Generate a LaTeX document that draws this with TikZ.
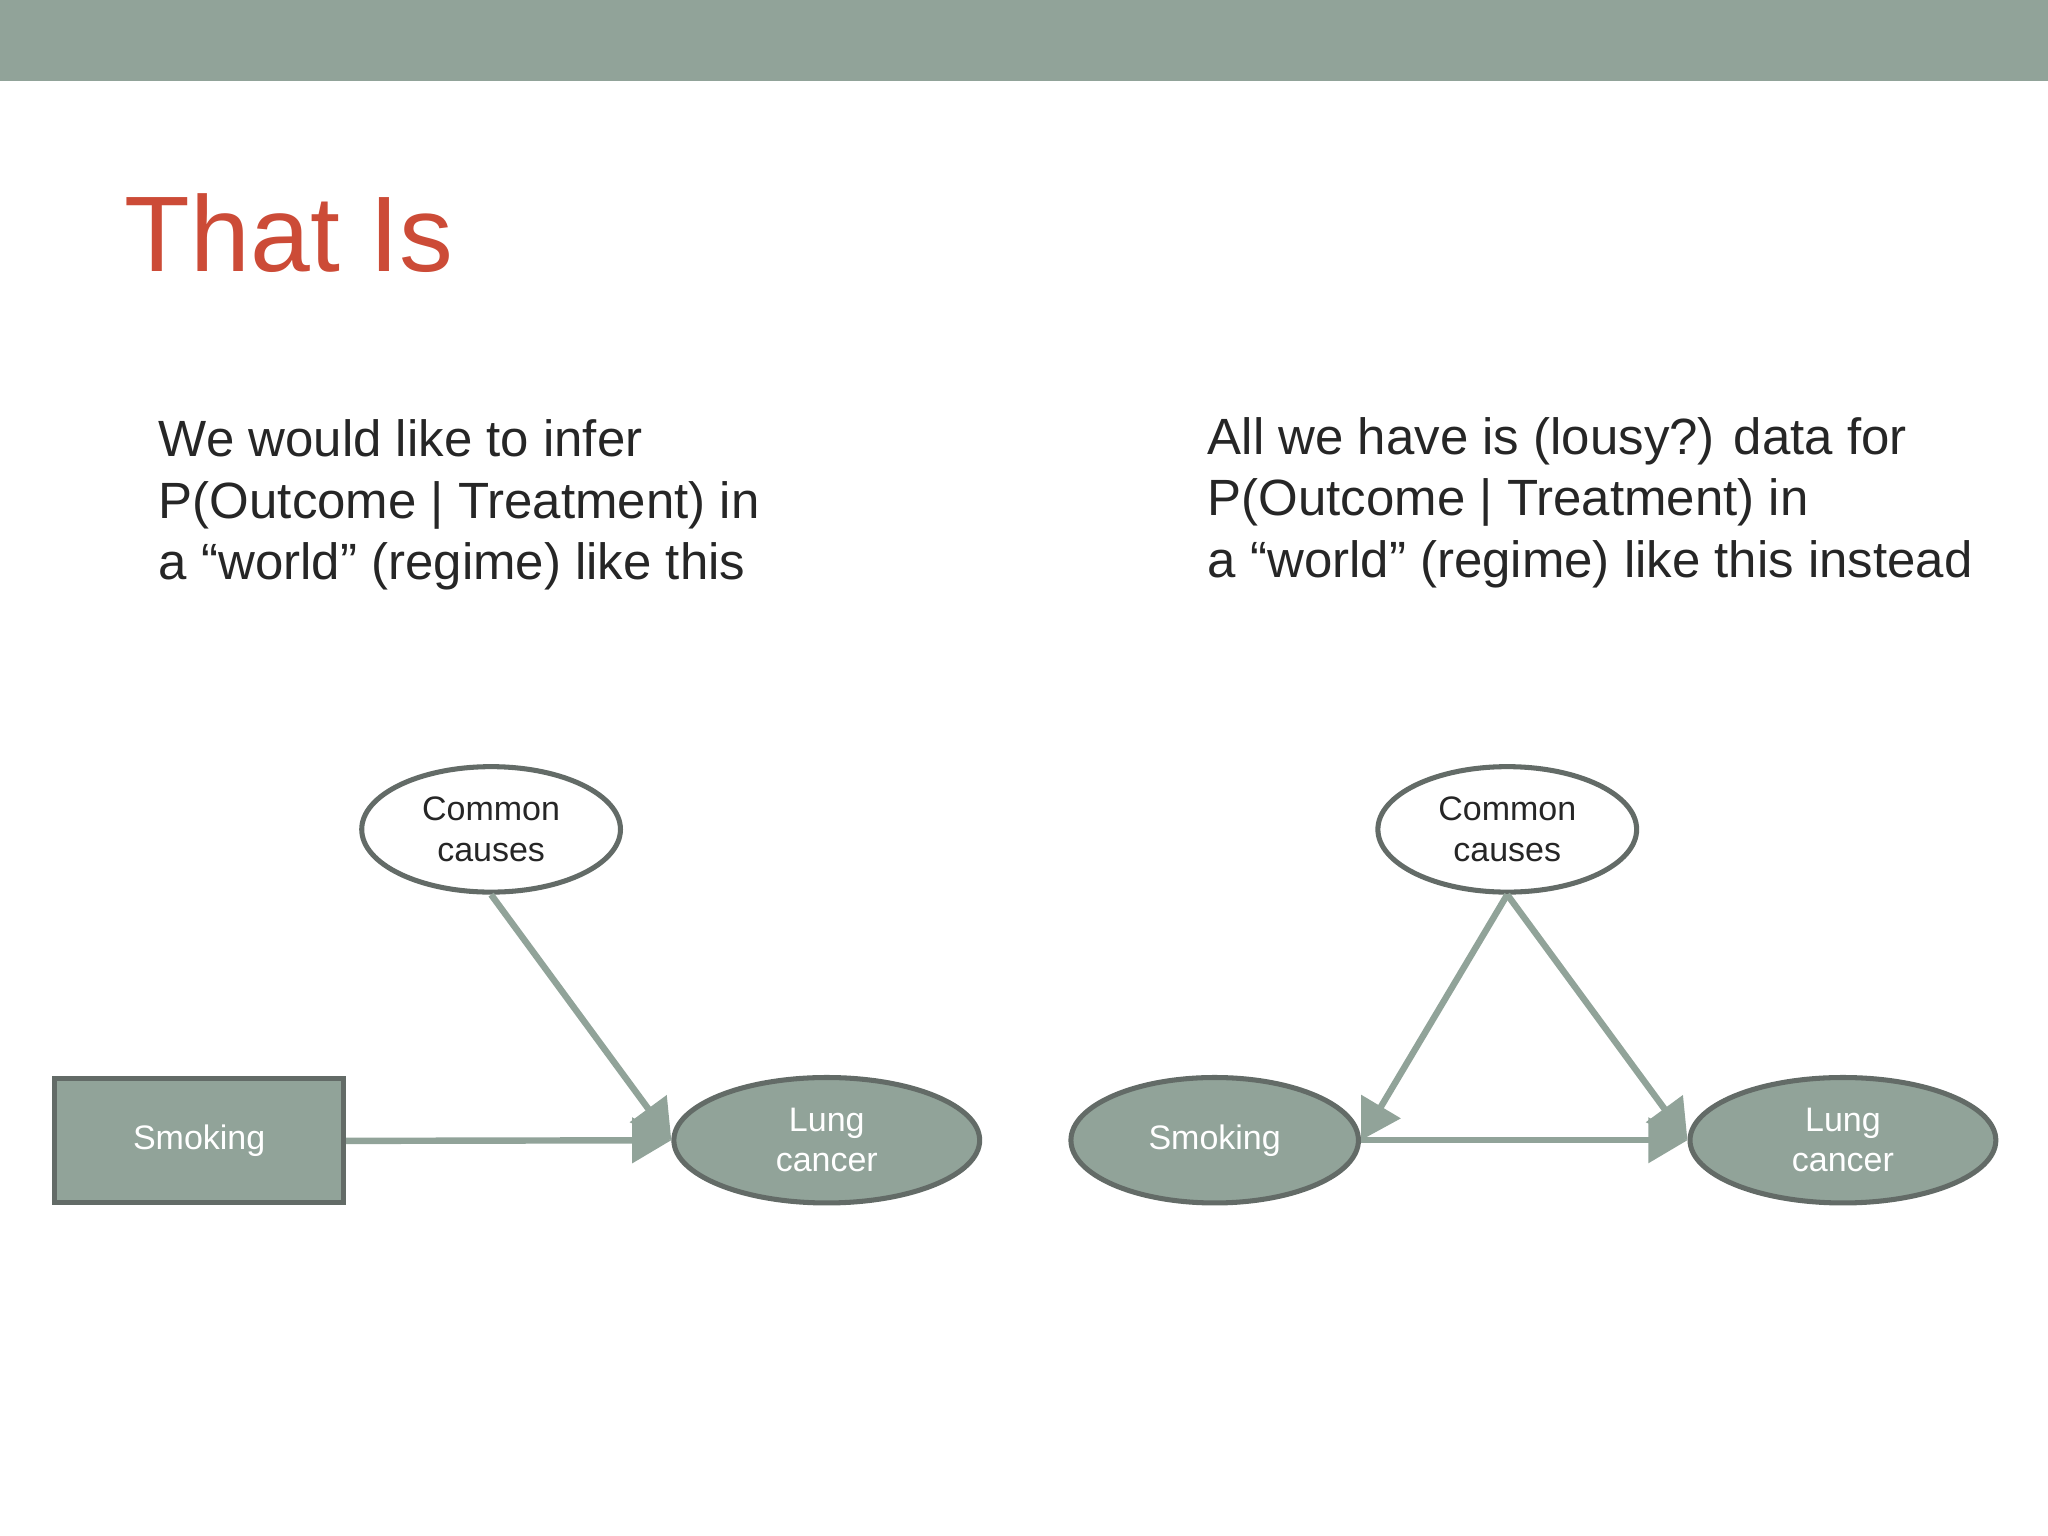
\documentclass[tikz,border=0pt]{standalone}
\usepackage{fontspec}
\setmainfont{Liberation Sans}
\usetikzlibrary{arrows.meta,shapes.geometric}
\definecolor{sage}{HTML}{91A399}
\definecolor{dark}{HTML}{636B67}
\definecolor{titlered}{HTML}{CC4B37}
\begin{document}
\begin{tikzpicture}[x=0.01cm,y=-0.01cm,
  body/.style={anchor=base west,align=left,font=\fontsize{11.1pt}{13.4pt}\selectfont,text=black!85},
  wnode/.style={ellipse,draw=dark,line width=1.1pt,fill=white,align=center,font=\fontsize{7.4pt}{8.8pt}\selectfont,text=black!85,minimum width=1.98cm,minimum height=0.96cm,inner sep=0pt},
  gnode/.style={ellipse,draw=dark,line width=1.1pt,fill=sage,align=center,font=\fontsize{7.4pt}{8.8pt}\selectfont,text=white,minimum height=0.96cm,inner sep=0pt},
  arr/.style={draw=sage,line width=1.4pt,-{Triangle[length=0.3cm,width=0.34cm]}}]
\useasboundingbox (0,0) rectangle (1568,1176);
\fill[sage] (0,0) rectangle (1568,62);
\node[anchor=base west,text=titlered,font=\fontsize{23.4pt}{28pt}\selectfont,inner sep=0pt] (title) at (95,208) {That Is};
\node[body,inner sep=0pt] (lt) at (121,444) {We would like to infer\\P(Outcome | Treatment) in\\a “world” (regime) like this};
\node[body,inner sep=0pt] (rt) at (924,442) {All we have is (lousy?) data for\\P(Outcome | Treatment) in\\a “world” (regime) like this instead};
% left
\node[wnode] (c1) at (376,635) {Common\\causes};
\node[draw=dark,line width=1.1pt,fill=sage,minimum width=2.21cm,minimum height=0.95cm,text=white,font=\fontsize{7.4pt}{8.8pt}\selectfont] (s1) at (152.5,873.5) {Smoking};
\node[gnode,minimum width=2.34cm] (l1) at (633,873) {Lung\\cancer};
\draw[arr] (c1.south) -- (l1.west);
\draw[arr] (s1.east) -- (l1.west);
% right
\node[wnode] (c2) at (1154,635) {Common\\causes};
\node[gnode,minimum width=2.2cm] (s2) at (930,873) {Smoking};
\node[gnode,minimum width=2.34cm] (l2) at (1411,873) {Lung\\cancer};
\draw[arr] (c2.south) -- (s2.east);
\draw[arr] (c2.south) -- (l2.west);
\draw[arr] (s2.east) -- (l2.west);
\end{tikzpicture}
\end{document}
